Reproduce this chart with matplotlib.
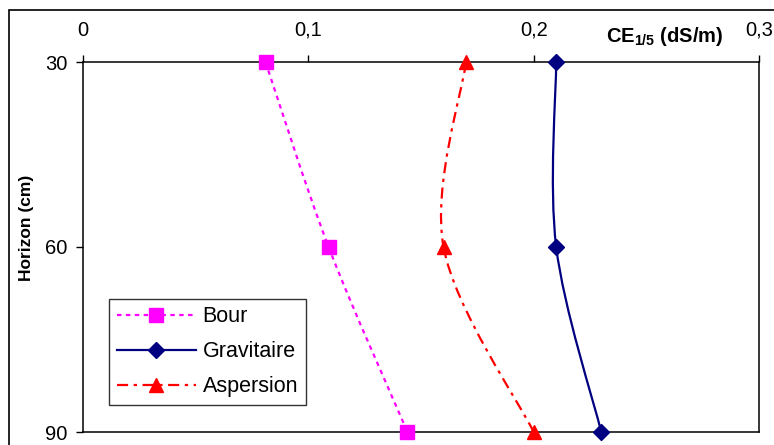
""" CE1/5 profile by irrigation mode """
import numpy as np
from matplotlib import pyplot as plt
from matplotlib.path import Path
from matplotlib.patches import PathPatch, Rectangle
from matplotlib.lines import Line2D
from matplotlib.ticker import FuncFormatter

plt.rcParams['font.family'] = ['Liberation Sans', 'DejaVu Sans']
plt.rcParams['mathtext.fontset'] = 'custom'
plt.rcParams['mathtext.bf'] = 'Liberation Sans:bold'
plt.rcParams['mathtext.rm'] = 'Liberation Sans'

# data
horizons = [30, 60, 90]
bour = [0.081, 0.109, 0.144]
gravitaire = [0.21, 0.21, 0.23]
aspersion = [0.17, 0.16, 0.20]
x_ticks = [0, 0.1, 0.2, 0.3]


def smooth_path(xs, ys):
    """ Excel-like smoothed line as a cubic Bezier path through the points """
    pts = np.column_stack([xs, ys]).astype(float)
    n = len(pts)
    verts = [pts[0]]
    codes = [Path.MOVETO]
    for i in range(n - 1):
        p_prev = pts[max(i - 1, 0)]
        p_next2 = pts[min(i + 2, n - 1)]
        c1 = pts[i] + (pts[i + 1] - p_prev) / 6.0
        c2 = pts[i + 1] - (p_next2 - pts[i]) / 6.0
        verts += [c1, c2, pts[i + 1]]
        codes += [Path.CURVE4] * 3
    return Path(verts, codes)


series = [
    ('Bour', bour, 'magenta', (0, (2, 2)), 's', 10),
    ('Gravitaire', gravitaire, '#000080', '-', 'D', 8.5),
    ('Aspersion', aspersion, 'red', (0, (5, 2.5, 1.5, 2.5)), '^', 10),
]

fig = plt.figure(figsize=(7.74, 4.45), dpi=100)
ax = fig.add_axes([83 / 774, 1 - 432 / 445, (759 - 83) / 774, (432 - 62) / 445])

handles = []
for name, vals, color, ls, marker, ms in series:
    patch = PathPatch(smooth_path(vals, horizons), facecolor='none', edgecolor=color,
                      linewidth=1.6, linestyle=ls, zorder=2)
    ax.add_patch(patch)
    ax.plot(vals, horizons, linestyle='none', marker=marker, markersize=ms,
            color=color, clip_on=False, zorder=3)
    handles.append(Line2D([], [], color=color, linestyle=ls, linewidth=1.6,
                          marker=marker, markersize=ms, label=name))

ax.set_xlim(0, 0.3)
ax.set_ylim(90, 30)
ax.set_yticks(horizons)
ax.set_xticks(x_ticks)
ax.xaxis.set_major_formatter(FuncFormatter(lambda v, p: ('%g' % round(v, 2)).replace('.', ',')))
ax.xaxis.tick_top()
ax.tick_params(axis='x', direction='out', length=5, width=1, pad=11, labelsize=14.5)
ax.tick_params(axis='y', direction='out', length=5, width=1, pad=6, labelsize=14.5)
for sp in ax.spines.values():
    sp.set_linewidth(1.1)

ax.text(0.861, 1.068, r'CE$_{\mathbf{1/5}}$ (dS/m)', transform=ax.transAxes,
        fontsize=14.5, fontweight='bold', ha='center', va='center')
ax.text(-0.084, 0.551, 'Horizon (cm)', transform=ax.transAxes, rotation=90,
        fontsize=12.5, fontweight='bold', ha='center', va='center')

leg = ax.legend(handles=handles, loc='lower left', bbox_to_anchor=(0.0385, 0.073),
                borderaxespad=0, fontsize=15.5, handlelength=3.7, handletextpad=0.3,
                fancybox=False, framealpha=1, edgecolor='#333333', borderpad=0.35,
                labelspacing=0.65, numpoints=1)
leg.get_frame().set_linewidth(1)

# outer chart border, cut off at the right and bottom like the reference
fig.patches.append(Rectangle((9 / 774, -0.2), 2, 1 - 10 / 445 + 0.2, transform=fig.transFigure,
                             fill=False, edgecolor='black', linewidth=1.2))

plt.savefig('out.png', dpi=100)
